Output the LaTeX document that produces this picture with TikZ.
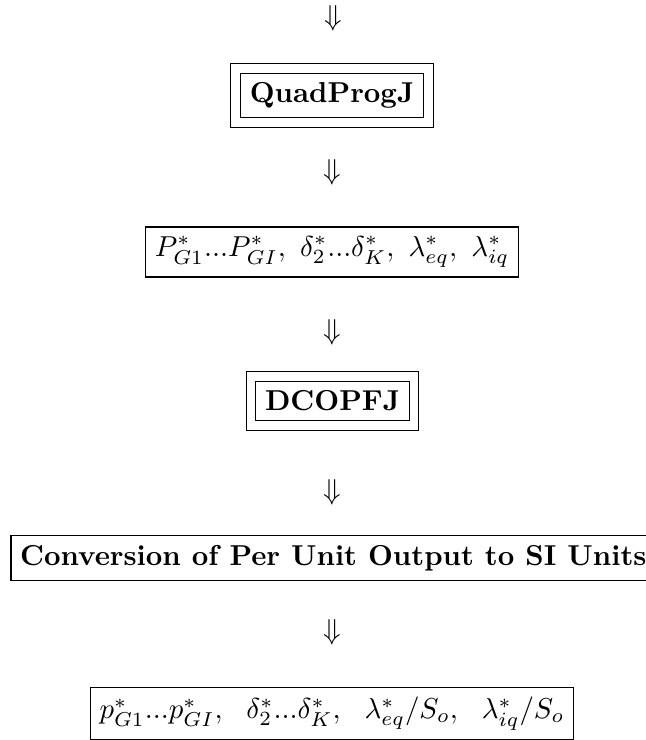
\documentclass[tikz,border=0pt]{standalone}
\usetikzlibrary{fit}
\begin{document}
\begin{tikzpicture}[x=0.3472pt,y=-0.3472pt,
  box/.style={draw, line width=0.4pt, inner sep=3.2pt, outer sep=0pt},
  framebox/.style={draw, line width=0.4pt, inner sep=3.4pt, outer sep=0pt},
  downarrow/.style={inner sep=0pt}]
  % page frame
  \clip (0,0) rectangle (646,740);
  \useasboundingbox (0,0) rectangle (646,740);

  \node[downarrow] (a1) at (333,18) {$\Downarrow$};

  % solver block
  \node[box, font=\bfseries] (qp) at (332,95.5) {QuadProgJ};
  \node[framebox, fit=(qp)] (qpo) {};

  \node[downarrow] (a2) at (332,172) {$\Downarrow$};

  % per-unit solution values
  \node[box, minimum height=17.4pt] (pu) at (332,252)
    {$P^*_{G1}...P^*_{GI},\ \delta^*_2...\delta^*_K,\ \lambda^*_{eq},\ \lambda^*_{iq}$};

  \node[downarrow] (a3) at (332,332) {$\Downarrow$};

  % DC OPF block
  \node[box, font=\bfseries] (dc) at (332.5,401) {DCOPFJ};
  \node[framebox, fit=(dc)] (dco) {};

  \node[downarrow] (a4) at (332,492) {$\Downarrow$};

  % unit conversion step
  \node[box, font=\bfseries, anchor=west] (conv) at (11,558)
    {Conversion of Per Unit Output to SI Units};

  \node[downarrow] (a5) at (332,632) {$\Downarrow$};

  % values in SI units
  \node[box] (si) at (332,713.5)
    {$p^*_{G1}...p^*_{GI},\ \ \delta^*_2...\delta^*_K,\ \ \lambda^*_{eq}/S_o,\ \ \lambda^*_{iq}/S_o$};
\end{tikzpicture}
\end{document}
